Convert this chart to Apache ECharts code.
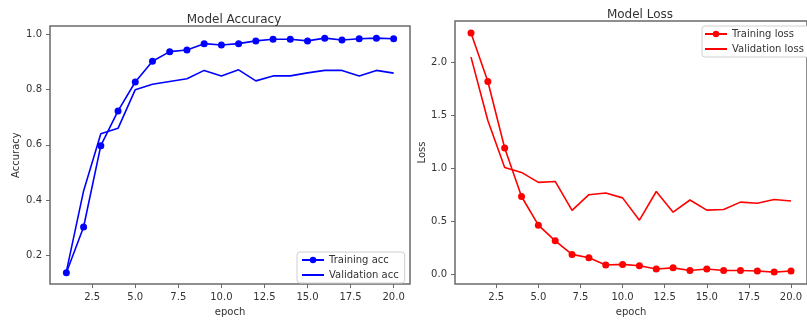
<!DOCTYPE html>
<html>
<head>
<meta charset="utf-8">
<script src="https://cdn.jsdelivr.net/npm/echarts@6/dist/echarts.min.js"></script>
<style>
html,body{margin:0;padding:0;background:#fff;}
#charts{width:807px;height:322px;}
</style>
</head>
<body>
<div id="charts"></div>
<script>
var epochs = [1,2,3,4,5,6,7,8,9,10,11,12,13,14,15,16,17,18,19,20];
var trainAcc = [0.136,0.302,0.597,0.723,0.828,0.903,0.938,0.944,0.967,0.962,0.967,0.977,0.983,0.983,0.977,0.987,0.980,0.985,0.987,0.985];
var valAcc = [0.14,0.433,0.64,0.66,0.80,0.82,0.83,0.84,0.87,0.85,0.872,0.832,0.85,0.85,0.861,0.87,0.87,0.85,0.87,0.86];
var trainLoss = [2.275,1.818,1.19,0.733,0.463,0.315,0.187,0.155,0.087,0.093,0.08,0.05,0.06,0.035,0.05,0.035,0.035,0.03,0.02,0.03];
var valLoss = [2.047,1.45,1.006,0.96,0.866,0.875,0.603,0.75,0.766,0.72,0.51,0.78,0.585,0.70,0.605,0.61,0.68,0.67,0.705,0.69];
var xTicks = [2.5,5,7.5,10,12.5,15,17.5,20];
var accTicks = [0.2,0.4,0.6,0.8,1.0];
var lossTicks = [0,0.5,1.0,1.5,2.0];

function pairs(xs, ys){
	var arr = [];
	for(var i=0;i<xs.length;i++){
		arr.push([xs[i], ys[i]]);
	}
	return arr;
}

var font = 'DejaVu Sans';
var txt = '#333';
var frame = '#6a6a6a';

function xAxisCfg(idx, gap){
	return {
		gridIndex: idx,
		type: 'value',
		min: 0.05,
		max: 20.95,
		name: 'epoch',
		nameLocation: 'middle',
		nameGap: gap,
		nameTextStyle: {fontFamily: font, fontSize: 10, color: txt},
		axisLine: {show: false, onZero: false},
		axisTick: {show: true, length: 4, customValues: xTicks, lineStyle: {color: frame}},
		axisLabel: {customValues: xTicks, margin: 8, fontFamily: font, fontSize: 10, color: txt,
			formatter: function(v){ return v.toFixed(1); }},
		splitLine: {show: false}
	};
}

function yAxisCfg(idx, name, min, max, ticks, gap){
	return {
		gridIndex: idx,
		type: 'value',
		min: min,
		max: max,
		name: name,
		nameLocation: 'middle',
		nameRotate: 90,
		nameGap: gap,
		nameTextStyle: {fontFamily: font, fontSize: 10, color: txt},
		axisLine: {show: false, onZero: false},
		axisTick: {show: true, length: 4, customValues: ticks, lineStyle: {color: frame}},
		axisLabel: {customValues: ticks, margin: 8, fontFamily: font, fontSize: 10, color: txt,
			formatter: function(v){ return v.toFixed(1); }},
		splitLine: {show: false}
	};
}

// 图例：验证曲线只画线，不画圆点
function legendItems(withMarker, noMarker){
	return [withMarker, {name: noMarker, itemStyle: {opacity: 0}}];
}

var charts = echarts.init(document.getElementById('charts'));
var option = {
	animation: false,
	title: [{
		text: 'Model Accuracy', left: 229, top: 9, textAlign: 'center',
		textStyle: {fontFamily: font, fontSize: 12, fontWeight: 'normal', color: txt}
	},{
		text: 'Model Loss', left: 635, top: 4, textAlign: 'center',
		textStyle: {fontFamily: font, fontSize: 12, fontWeight: 'normal', color: txt}
	}],
	legend: [{
		data: legendItems('Training acc','Validation acc'),
		orient: 'vertical',
		left: 297, top: 252,
		itemWidth: 22, itemHeight: 8, itemGap: 5,
		padding: [3,6,3,4],
		backgroundColor: '#fff',
		borderColor: '#d0d0d0', borderWidth: 1, borderRadius: 3,
		textStyle: {fontFamily: font, fontSize: 10, color: txt}
	},{
		data: legendItems('Training loss','Validation loss'),
		orient: 'vertical',
		left: 702, top: 26,
		itemWidth: 22, itemHeight: 8, itemGap: 5,
		padding: [3,6,3,2],
		backgroundColor: '#fff',
		borderColor: '#d0d0d0', borderWidth: 1, borderRadius: 3,
		textStyle: {fontFamily: font, fontSize: 10, color: txt}
	}],
	grid: [{
		left: 50, top: 26, width: 360, height: 263,
		show: true, borderColor: frame, borderWidth: 1.5, backgroundColor: 'transparent'
	},{
		left: 455, top: 21, width: 360, height: 264,
		show: true, borderColor: frame, borderWidth: 1.5, backgroundColor: 'transparent'
	}],
	xAxis: [xAxisCfg(0, 20), xAxisCfg(1, 20)],
	yAxis: [
		yAxisCfg(0, 'Accuracy', 0.095, 1.031, accTicks, 29),
		yAxisCfg(1, 'Loss', -0.093, 2.388, lossTicks, 24)
	],
	series: [{
		name: 'Training acc', type: 'line', xAxisIndex: 0, yAxisIndex: 0,
		symbol: 'circle', symbolSize: 7, showAllSymbol: true,
		itemStyle: {color: '#0000ff'},
		lineStyle: {color: '#0000ff', width: 1.6},
		data: pairs(epochs, trainAcc)
	},{
		name: 'Validation acc', type: 'line', xAxisIndex: 0, yAxisIndex: 0,
		symbol: 'none',
		itemStyle: {color: '#0000ff'},
		lineStyle: {color: '#0000ff', width: 1.6},
		data: pairs(epochs, valAcc)
	},{
		name: 'Training loss', type: 'line', xAxisIndex: 1, yAxisIndex: 1,
		symbol: 'circle', symbolSize: 7, showAllSymbol: true,
		itemStyle: {color: '#ff0000'},
		lineStyle: {color: '#ff0000', width: 1.6},
		data: pairs(epochs, trainLoss)
	},{
		name: 'Validation loss', type: 'line', xAxisIndex: 1, yAxisIndex: 1,
		symbol: 'none',
		itemStyle: {color: '#ff0000'},
		lineStyle: {color: '#ff0000', width: 1.6},
		data: pairs(epochs, valLoss)
	}]
};
charts.setOption(option);
</script>
</body>
</html>
